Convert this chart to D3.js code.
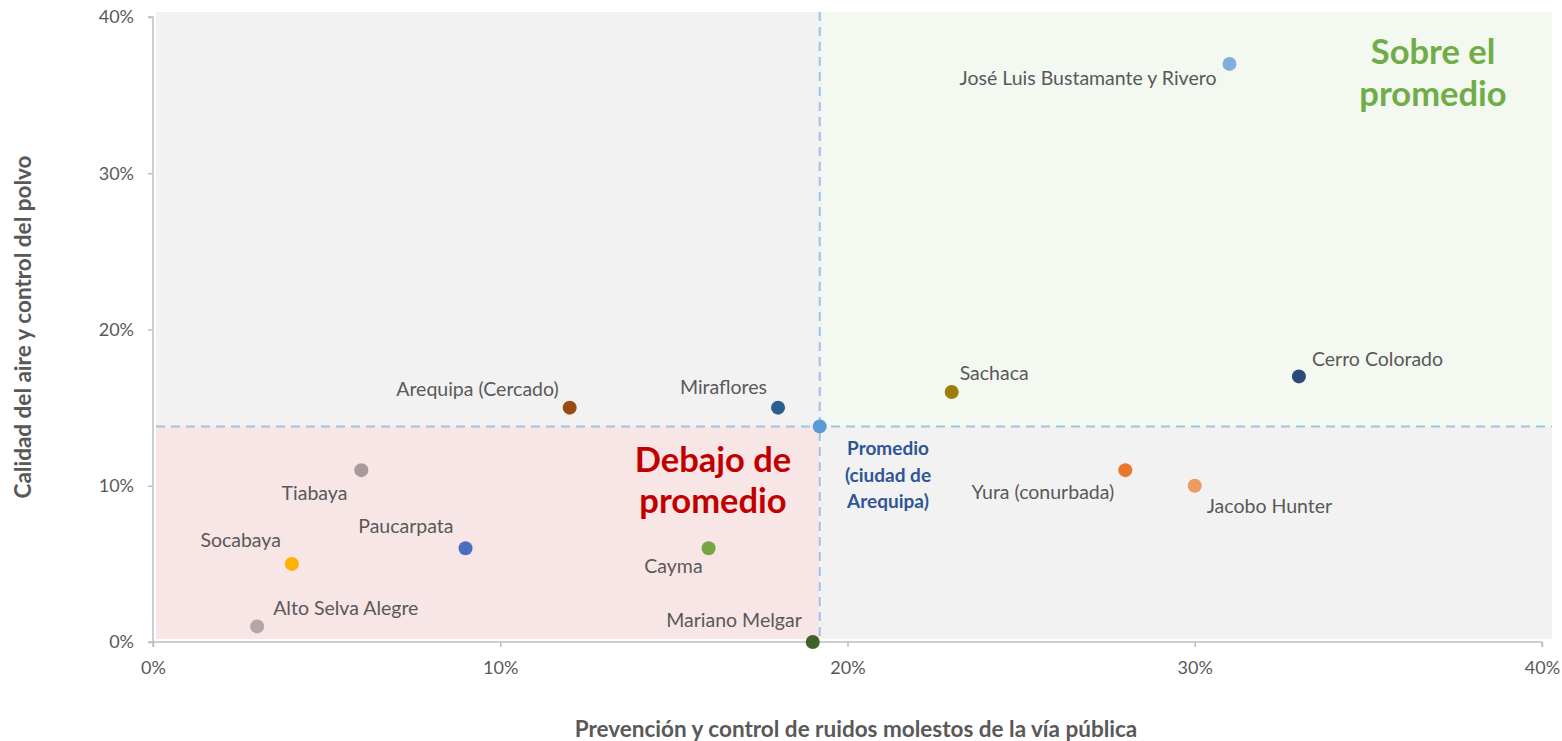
<!DOCTYPE html>
<html>
<head>
<meta charset="utf-8">
<script src="https://cdn.jsdelivr.net/npm/d3@7"></script>
<style>
  body { margin: 0; background: #fff; }
  svg { display: block; font-family: Lato, "Open Sans", sans-serif; }
</style>
</head>
<body>
<svg id="chart" width="1562" height="741"></svg>
<script>
// districts of Arequipa
const districts = [
  "José Luis Bustamante y Rivero", "Cerro Colorado", "Sachaca", "Yura (conurbada)",
  "Jacobo Hunter", "Mariano Melgar", "Cayma", "Miraflores", "Arequipa (Cercado)",
  "Tiabaya", "Paucarpata", "Socabaya", "Alto Selva Alegre"
];
// x: ruidos molestos, y: calidad del aire (fractions)
const ruidos = [0.31, 0.33, 0.23, 0.28, 0.30, 0.19, 0.16, 0.18, 0.12, 0.06, 0.09, 0.04, 0.03];
const aire   = [0.37, 0.17, 0.16, 0.11, 0.10, 0.00, 0.06, 0.15, 0.15, 0.11, 0.06, 0.05, 0.01];
const dotColors = [
  "#7eb0d9", "#2b4a78", "#9e7d0f", "#e8782f", "#ee9a63", "#3f6326", "#76a544",
  "#2a5e91", "#9a4a13", "#a59b9b", "#4a6fc0", "#fdb100", "#b2a6a6"
];
// label placement relative to its dot: [anchor, dx, dy]
const labelPos = [
  ["end", -13, 21], ["start", 13, -10], ["start", 8, -12], ["end", -11, 29],
  ["start", 12, 27], ["end", -11, -15], ["end", -6, 25], ["end", -11, -14],
  ["end", -11, -12], ["end", -14, 30], ["end", -12, -15], ["end", -11, -17],
  ["start", 16, -11]
];
const promedio = { name: ["Promedio", "(ciudad de", "Arequipa)"], x: 0.192, y: 0.138 };
const xTicks = [0, 0.1, 0.2, 0.3, 0.4];
const yTicks = [0, 0.1, 0.2, 0.3, 0.4];

const svg = d3.select("#chart");
const x = d3.scaleLinear().domain([0, 0.4]).range([153, 1542]);
const y = d3.scaleLinear().domain([0, 0.4]).range([642, 17]);
const pct = d3.format(".0%");

// plot area backgrounds
const areaL = 156, areaR = 1552, areaT = 12, areaB = 639;
const mx = x(promedio.x), my = y(promedio.y);
svg.append("rect").attr("x", areaL).attr("y", areaT)
  .attr("width", areaR - areaL).attr("height", areaB - areaT).attr("fill", "#f2f2f2");
svg.append("rect").attr("x", mx + 2).attr("y", areaT)
  .attr("width", areaR - mx - 2).attr("height", my - areaT).attr("fill", "#f3f8f1");
svg.append("rect").attr("x", areaL).attr("y", my)
  .attr("width", mx - areaL - 1).attr("height", areaB - my).attr("fill", "#f8e5e5");

// axes
const axisColor = "#bfbfbf";
const xAxis = svg.append("g").attr("transform", `translate(0,${y(0)})`)
  .call(d3.axisBottom(x).tickValues(xTicks).tickFormat(pct).tickSize(5).tickPadding(14));
const yAxis = svg.append("g").attr("transform", `translate(${x(0)},0)`)
  .call(d3.axisLeft(y).tickValues(yTicks).tickFormat(pct).tickSize(5).tickPadding(14));
[xAxis, yAxis].forEach(a => {
  a.select(".domain").attr("stroke", axisColor).attr("stroke-width", 1.5);
  a.selectAll(".tick line").attr("stroke", axisColor).attr("stroke-width", 1.5);
  a.selectAll(".tick text").attr("fill", "#595959").style("font-size", "18px")
    .style("font-family", "Lato, sans-serif");
});
xAxis.select(".domain").attr("d", `M${x(0)},5V0H${x(0.4)}V5`);
yAxis.select(".domain").attr("d", `M-5,${y(0.4)}H0V${y(0)}H-5`);

// average reference lines
svg.append("line").attr("x1", areaL).attr("x2", areaR).attr("y1", my).attr("y2", my)
  .attr("stroke", "#9dc3e6").attr("stroke-width", 2).attr("stroke-dasharray", "9,6");
svg.append("line").attr("x1", mx).attr("x2", mx).attr("y1", areaT).attr("y2", areaB)
  .attr("stroke", "#9dc3e6").attr("stroke-width", 2).attr("stroke-dasharray", "9,6");

// quadrant titles
const quad = (lines, cx, ys, color) => {
  const t = svg.append("text").attr("text-anchor", "middle").attr("fill", color)
    .style("font-size", "34.5px").style("font-weight", "bold");
  lines.forEach((l, i) => t.append("tspan").attr("x", cx).attr("y", ys[i]).text(l));
};
quad(["Sobre el", "promedio"], 1433, [64, 106], "#70ad47");
quad(["Debajo de", "promedio"], 713, [472, 513], "#c00000");

// points
const pts = districts.map((d, i) => ({ name: d, x: ruidos[i], y: aire[i], c: dotColors[i], lp: labelPos[i] }));
svg.append("g").selectAll("text").data(pts).join("text")
  .attr("x", d => x(d.x) + d.lp[1]).attr("y", d => y(d.y) + d.lp[2])
  .attr("text-anchor", d => d.lp[0])
  .attr("fill", "#595959").style("font-size", "19.5px")
  .text(d => d.name);
svg.append("g").selectAll("circle").data(pts).join("circle")
  .attr("cx", d => x(d.x)).attr("cy", d => y(d.y)).attr("r", 7)
  .attr("fill", d => d.c);

svg.append("circle").attr("cx", mx).attr("cy", my).attr("r", 7).attr("fill", "#5b9bd5");
const pt = svg.append("text").attr("text-anchor", "middle").attr("fill", "#2f5597")
  .style("font-size", "19px").style("font-weight", "bold");
promedio.name.forEach((l, i) => pt.append("tspan").attr("x", 888).attr("y", 455 + i * 26.5).text(l));

// axis titles
svg.append("text").attr("x", 856).attr("y", 737).attr("text-anchor", "middle")
  .attr("fill", "#595959").style("font-size", "22.5px").style("font-weight", "bold")
  .text("Prevención y control de ruidos molestos de la vía pública");
svg.append("text").attr("transform", "translate(31,327) rotate(-90)").attr("text-anchor", "middle")
  .attr("fill", "#595959").style("font-size", "22.5px").style("font-weight", "bold")
  .text("Calidad del aire y control del polvo");
</script>
</body>
</html>
